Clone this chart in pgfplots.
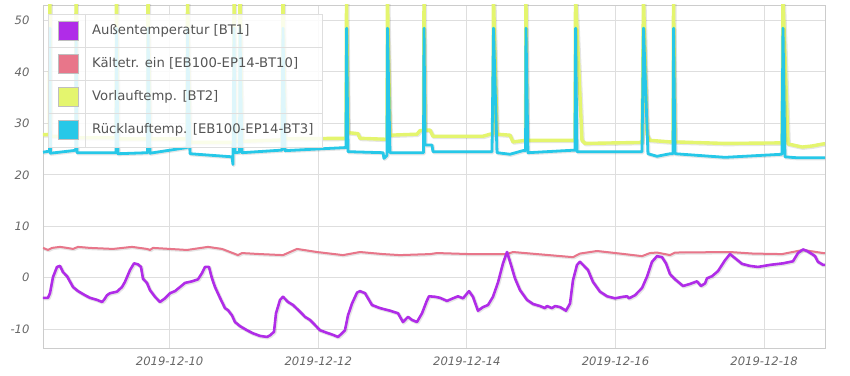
\documentclass[border=0pt]{standalone}
\usepackage{fontspec}
\setmainfont{DejaVu Sans}
\usepackage{pgfplots}
\pgfplotsset{compat=1.18}

\definecolor{cAussen}{RGB}{176,44,232}
\definecolor{cKalt}{RGB}{232,118,138}
\definecolor{cVor}{RGB}{228,245,110}
\definecolor{cRueck}{RGB}{38,200,232}
\definecolor{gridc}{RGB}{222,222,222}
\definecolor{borderc}{RGB}{204,204,204}
\definecolor{tickc}{RGB}{102,102,102}
\definecolor{legc}{RGB}{85,85,85}

\pgfplotsset{shad/.style={preaction={draw=black, draw opacity=0.10, line width=#1, transform canvas={xshift=0.8pt,yshift=-0.8pt}}}}

\begin{document}
\begin{tikzpicture}
\begin{axis}[
  scale only axis, width=782pt, height=343pt,
  xmin=8.295, xmax=18.82, ymin=-13.65, ymax=53,
  xtick={10,12,14,16,18},
  xticklabels={2019-12-10,2019-12-12,2019-12-14,2019-12-16,2019-12-18},
  ytick={-10,0,10,20,30,40,50},
  yticklabels={-10,0,10,20,30,40,50},
  grid=major, major grid style={draw=gridc, line width=0.9pt},
  axis line style={draw=borderc, line width=0.9pt},
  major tick length=0pt,
  tick label style={font=\fontsize{11.6}{13}\selectfont\itshape, text=tickc},
  yticklabel style={xshift=-10pt},
  xticklabel style={yshift=-5pt},
]
% Kaeltetraeger ein [EB100-EP14-BT10]
\addplot[cKalt, line width=2pt, line join=round, shad=3pt] coordinates {
(8.295,5.8) (8.362,5.4) (8.416,5.8) (8.524,6.0) (8.618,5.8) (8.699,5.6) (8.766,6.0)
(8.927,5.8) (9.237,5.6) (9.493,6.0) (9.694,5.6) (9.735,5.4) (9.775,5.8) (10.004,5.6)
(10.233,5.4) (10.515,6.0) (10.704,5.6) (10.812,5.0) (10.919,4.4) (10.973,4.8) (11.215,4.6)
(11.525,4.4) (11.619,5.0) (11.713,5.6) (11.982,5.0) (12.332,4.4) (12.561,5.0) (12.871,4.6)
(13.100,4.4) (13.503,4.6) (13.598,4.8) (14.042,4.6) (14.540,4.6) (14.620,5.0) (14.943,4.6)
(15.428,4.0) (15.522,4.7) (15.751,5.2) (16.061,4.7) (16.357,4.2) (16.464,4.8) (16.559,4.9)
(16.734,4.4) (16.801,4.9) (17.541,5.0) (17.851,4.7) (18.241,4.6) (18.524,5.4) (18.793,4.8)
(18.82,4.8)
};
% Aussentemperatur [BT1]
\addplot[cAussen, line width=2.6pt, line join=round, shad=3.6pt] coordinates {
(8.295,-3.9) (8.362,-3.9) (8.389,-3.0) (8.429,0.1) (8.483,2.1) (8.524,2.3) (8.564,1.1)
(8.618,0.3) (8.699,-1.8) (8.766,-2.6) (8.860,-3.4) (8.927,-3.9) (9.022,-4.3) (9.089,-4.7)
(9.116,-4.3) (9.156,-3.4) (9.197,-3.0) (9.291,-2.7) (9.358,-1.8) (9.398,-0.8) (9.466,1.5)
(9.520,2.8) (9.573,2.6) (9.614,2.1) (9.641,-0.2) (9.694,-1.0) (9.735,-2.4) (9.802,-3.7)
(9.869,-4.7) (9.937,-4.0) (10.004,-3.0) (10.071,-2.6) (10.139,-1.8) (10.206,-1.0)
(10.300,-0.7) (10.381,-0.3) (10.435,0.9) (10.475,2.1) (10.529,2.1) (10.569,-0.1)
(10.610,-1.8) (10.677,-3.9) (10.744,-5.9) (10.785,-6.3) (10.838,-7.3) (10.879,-8.6)
(10.946,-9.4) (11.040,-10.2) (11.121,-10.8) (11.215,-11.3) (11.310,-11.5) (11.350,-11.2)
(11.404,-10.5) (11.431,-6.9) (11.485,-4.3) (11.525,-3.7) (11.592,-4.7) (11.660,-5.3)
(11.754,-6.6) (11.821,-7.6) (11.888,-8.2) (11.956,-9.2) (12.023,-10.2) (12.117,-10.7)
(12.198,-11.1) (12.265,-11.5) (12.319,-10.8) (12.359,-10.2) (12.400,-7.3) (12.454,-5.0)
(12.521,-2.9) (12.561,-2.6) (12.629,-3.0) (12.723,-5.3) (12.830,-5.9) (12.965,-6.4)
(13.073,-6.9) (13.140,-8.6) (13.207,-7.6) (13.261,-8.2) (13.328,-8.6) (13.396,-6.9)
(13.460,-4.5) (13.490,-3.6) (13.571,-3.7) (13.638,-3.9) (13.732,-4.5) (13.813,-4.0)
(13.880,-3.6) (13.948,-4.0) (14.028,-2.6) (14.082,-3.7) (14.149,-6.4) (14.217,-5.7)
(14.284,-5.3) (14.351,-3.7) (14.419,-0.9) (14.486,2.8) (14.540,5.0) (14.594,2.5)
(14.647,-0.1) (14.715,-2.4) (14.809,-4.3) (14.890,-5.1) (14.984,-5.5) (15.051,-5.9)
(15.078,-5.5) (15.145,-5.9) (15.186,-5.5) (15.253,-5.7) (15.334,-6.4) (15.388,-5.0)
(15.428,-0.5) (15.482,2.5) (15.522,3.1) (15.563,2.5) (15.630,1.5) (15.697,-0.8)
(15.791,-2.7) (15.886,-3.6) (15.993,-4.0) (16.101,-3.7) (16.155,-3.6) (16.182,-4.0)
(16.262,-3.4) (16.357,-2.0) (16.424,0.2) (16.491,3.1) (16.559,4.2) (16.626,4.0)
(16.680,2.8) (16.734,0.7) (16.801,-0.3) (16.909,-1.6) (17.003,-1.2) (17.097,-0.7)
(17.151,-1.6) (17.205,-1.1) (17.232,-0.1) (17.299,0.3) (17.380,1.3) (17.474,3.4)
(17.541,4.6) (17.609,3.8) (17.703,2.7) (17.810,2.3) (17.918,2.1) (18.079,2.5)
(18.254,2.8) (18.389,3.2) (18.456,4.8) (18.524,5.5) (18.577,5.2) (18.645,4.6)
(18.685,4.2) (18.725,3.1) (18.793,2.5) (18.82,2.5)
};
% Vorlauftemp. [BT2]
\addplot[cVor, line width=3.4pt, line join=round, shad=4.2pt] coordinates {
(8.295,27.8) (8.382,27.8) (8.389,55) (8.395,27.5) (8.735,27.5) (8.739,55) (8.752,27.2)
(9.277,27.2) (9.284,55) (9.304,27.0) (9.701,27.0) (9.708,55) (9.735,27.0) (10.233,27.0)
(10.240,55) (10.273,26.3) (10.859,26.3) (10.866,55) (10.879,26.5) (10.940,26.5)
(10.946,55) (10.973,26.5) (11.511,26.8) (11.525,55) (11.553,27.0) (12.373,27.1)
(12.380,55) (12.400,28.2) (12.534,28.0) (12.561,27.1) (12.925,26.9) (12.931,55)
(12.965,27.7) (13.328,27.9) (13.369,28.6) (13.416,28.6) (13.423,55) (13.437,28.7)
(13.503,28.7) (13.544,27.5) (14.217,27.5) (14.313,27.9) (14.351,27.9) (14.358,55)
(14.405,27.9) (14.580,27.7) (14.620,26.4) (14.790,26.7) (14.795,55) (14.809,26.7)
(15.455,26.7) (15.462,55) (15.549,26.7) (15.590,26.1) (16.357,26.3) (16.377,55)
(16.424,27.9) (16.464,26.7) (16.734,26.4) (16.775,26.4) (16.781,55) (16.801,26.4)
(17.474,26.1) (18.187,26.2) (18.241,26.2) (18.254,55) (18.322,26.0) (18.511,25.4)
(18.645,25.6) (18.793,26.0) (18.82,26.0)
};
% Ruecklauftemp. [EB100-EP14-BT3]
\addplot[cRueck, line width=2.8pt, line join=round, shad=3.6pt] coordinates {
(8.295,24.4) (8.382,24.6) (8.389,48.5) (8.395,24.2) (8.699,24.7) (8.735,24.8) (8.739,48.5)
(8.752,24.3) (9.277,24.3) (9.284,48.5) (9.304,24.1) (9.701,24.3) (9.708,48.5) (9.735,24.2)
(10.233,25.3) (10.240,48.5) (10.273,24.1) (10.838,23.5) (10.852,22.0) (10.866,48.5)
(10.879,24.3) (10.940,24.4) (10.946,48.5) (10.973,24.3) (11.511,24.8) (11.525,48.5)
(11.553,24.7) (12.373,25.3) (12.380,48.5) (12.400,24.5) (12.871,24.3) (12.884,23.2)
(12.925,23.8) (12.931,48.5) (12.965,24.3) (13.416,24.3) (13.423,48.5) (13.437,25.8)
(13.530,25.8) (13.544,24.5) (14.338,24.5) (14.358,48.5) (14.405,24.3) (14.580,24.0)
(14.755,24.7) (14.790,24.7) (14.795,48.5) (14.822,24.3) (15.455,24.8) (15.462,48.5)
(15.482,24.5) (16.357,24.5) (16.377,48.5) (16.437,24.1) (16.559,23.6) (16.734,24.1)
(16.775,24.1) (16.781,48.5) (16.801,24.1) (17.474,23.4) (18.241,24.0) (18.254,48.5)
(18.281,23.5) (18.456,23.3) (18.82,23.3)
};
\end{axis}
% legend
\begin{scope}[shift={(current axis.north west)}]
  \fill[white, opacity=0.85] (5pt,-9pt) rectangle (279pt,-142pt);
  \draw[gridc, line width=0.8pt] (5pt,-9pt) rectangle (279pt,-142pt);
  \draw[gridc, line width=0.8pt] (5pt,-42pt) -- (279pt,-42pt);
  \draw[gridc, line width=0.8pt] (5pt,-75pt) -- (279pt,-75pt);
  \draw[gridc, line width=0.8pt] (5pt,-108pt) -- (279pt,-108pt);
  \draw[gridc, line width=0.8pt] (42pt,-9pt) -- (42pt,-142pt);
  \filldraw[fill=cAussen, draw=gray!50, line width=0.7pt] (15pt,-16pt) rectangle (35pt,-35pt);
  \filldraw[fill=cKalt, draw=gray!50, line width=0.7pt] (15pt,-49pt) rectangle (35pt,-68pt);
  \filldraw[fill=cVor, draw=gray!50, line width=0.7pt] (15pt,-82pt) rectangle (35pt,-101pt);
  \filldraw[fill=cRueck, draw=gray!50, line width=0.7pt] (15pt,-115pt) rectangle (35pt,-134pt);
  \begin{scope}[every node/.style={anchor=west, inner sep=0pt, text=legc, font=\fontsize{13.2}{15}\selectfont}]
    \node at (49pt,-25.5pt) {Außentemperatur [BT1]};
    \node at (49pt,-58.5pt) {Kältetr. ein [EB100-EP14-BT10]};
    \node at (49pt,-91.5pt) {Vorlauftemp. [BT2]};
    \node at (49pt,-124.5pt) {Rücklauftemp. [EB100-EP14-BT3]};
  \end{scope}
\end{scope}
\pgfresetboundingbox
\path[use as bounding box] ([xshift=-43pt,yshift=-27pt]current axis.south west) rectangle ([xshift=25pt,yshift=5pt]current axis.north east);
\end{tikzpicture}
\end{document}
